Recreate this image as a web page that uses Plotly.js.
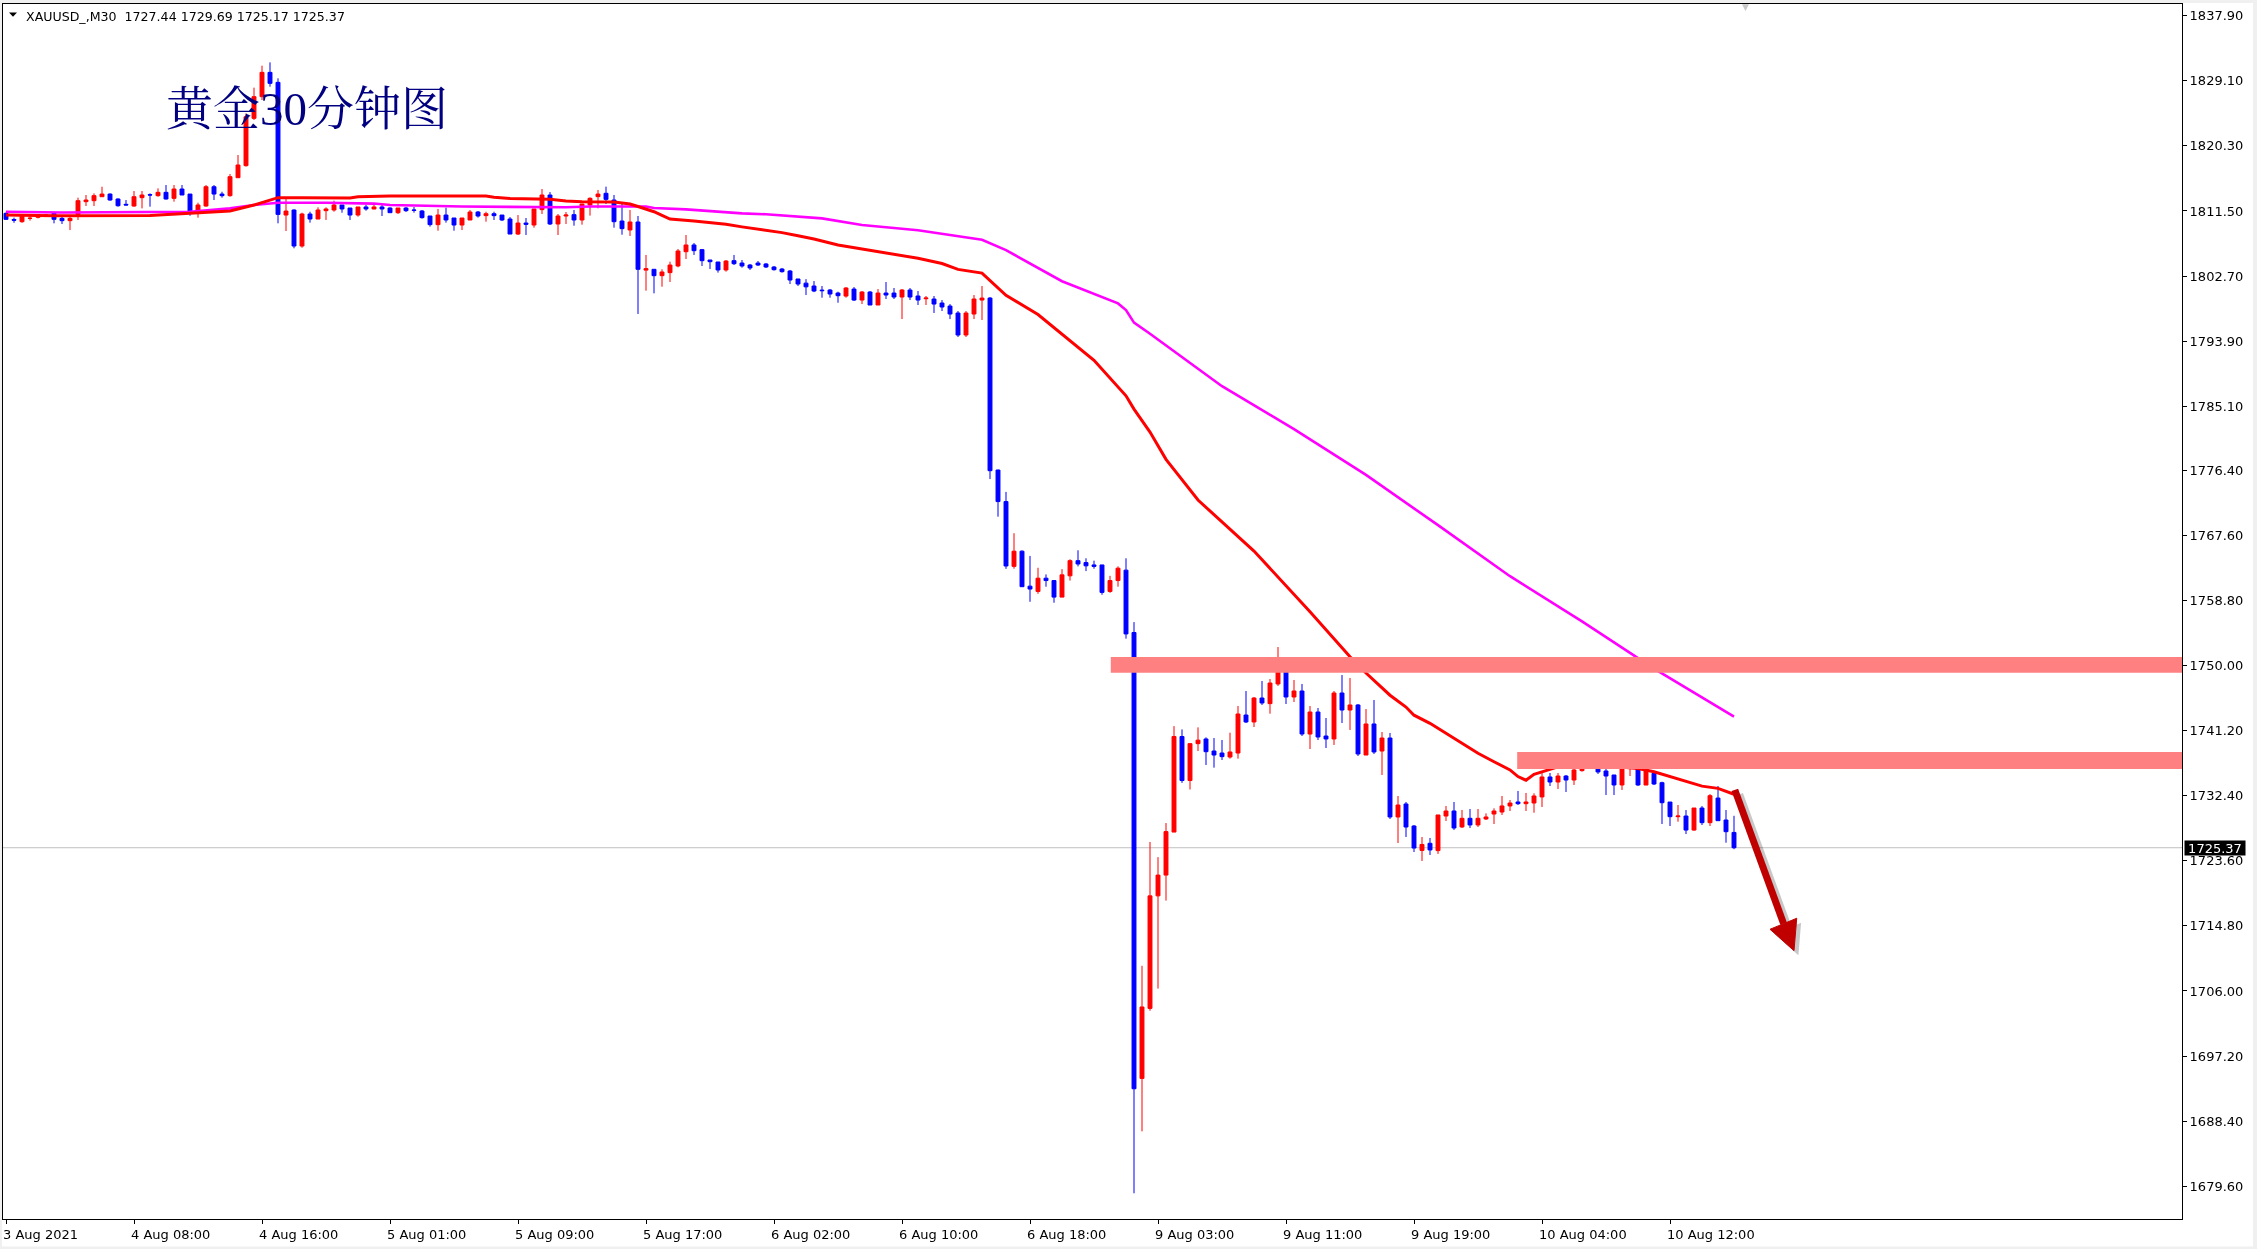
<!DOCTYPE html>
<html><head><meta charset="utf-8">
<script src="https://cdn.plot.ly/plotly-3.0.1.min.js"></script>
<style>
html,body{margin:0;padding:0;background:#fff;overflow:hidden;}
#chart{width:2257px;height:1249px;}
.layer-above .shapelayer path{mix-blend-mode:multiply;}
</style></head>
<body><div id="chart"></div>
<script>
// ---- DATA (XAUUSD M30, bar index 0 = 3 Aug 23:00) ----
const opens = [1811.18,1810.35,1810.05,1810.50,1810.64,1810.82,1811.18,1810.50,1810.19,1811.04,
1812.76,1812.89,1813.43,1813.79,1813.12,1812.40,1812.17,1813.30,1813.70,1813.57,
1814.02,1813.21,1814.47,1813.79,1811.63,1812.17,1814.78,1813.79,1813.57,1816.00,
1817.63,1824.03,1826.96,1830.25,1828.90,1810.95,1811.63,1806.76,1811.09,1810.41,
1811.54,1811.63,1812.31,1811.90,1810.95,1812.04,1811.77,1812.04,1811.90,1811.27,
1811.90,1811.63,1811.50,1810.82,1809.65,1810.95,1810.55,1809.60,1810.28,1811.36,
1810.87,1811.13,1810.95,1810.41,1808.38,1809.87,1809.60,1811.68,1813.66,1809.74,
1810.82,1811.00,1810.28,1812.31,1813.44,1813.89,1812.98,1810.14,1808.93,1810.01,
1803.50,1803.61,1802.75,1803.16,1804.06,1805.99,1806.90,1806.27,1804.87,1804.60,
1803.52,1804.78,1804.46,1804.19,1804.46,1804.33,1803.92,1803.65,1803.38,1802.30,
1801.74,1801.35,1800.80,1800.81,1800.40,1799.99,1800.94,1799.45,1800.54,1798.78,
1800.40,1800.40,1799.86,1800.81,1800.00,1799.63,1799.59,1799.05,1798.64,1797.70,
1794.72,1797.56,1799.45,1799.72,1776.46,1772.19,1763.43,1765.48,1760.75,1760.04,
1761.83,1761.51,1759.27,1762.15,1764.20,1763.94,1763.62,1763.62,1760.04,1761.51,
1762.92,1754.48,1694.17,1703.64,1718.86,1721.67,1727.49,1740.41,1734.46,1739.45,
1740.08,1738.45,1738.18,1737.64,1738.18,1743.32,1742.38,1745.62,1744.86,1747.52,
1749.14,1745.76,1746.57,1740.75,1743.73,1740.48,1740.08,1746.30,1744.00,1744.68,
1737.91,1742.11,1738.45,1740.21,1729.53,1731.29,1728.31,1725.01,1725.97,1724.98,
1729.66,1730.34,1728.18,1729.35,1728.45,1729.26,1729.93,1730.20,1731.02,1731.56,
1731.33,1731.42,1732.24,1734.94,1734.26,1735.07,1734.53,1735.80,1737.29,1737.11,
1735.75,1735.21,1733.86,1736.34,1736.25,1733.85,1735.43,1734.17,1731.55,1729.57,
1729.66,1727.76,1730.74,1728.76,1732.09,1729.12,1727.44];
const highs = [1811.30,1810.60,1811.05,1810.80,1810.90,1811.10,1811.30,1810.82,1810.82,1813.30,
1813.66,1813.88,1814.78,1813.88,1813.21,1812.98,1814.20,1814.20,1813.88,1814.56,
1815.01,1815.01,1815.01,1813.79,1812.62,1815.01,1815.01,1814.10,1816.50,1819.07,
1824.70,1828.18,1831.15,1831.60,1829.44,1813.21,1811.72,1811.27,1811.40,1811.99,
1811.99,1812.89,1812.31,1811.90,1812.04,1812.31,1812.31,1812.31,1811.99,1811.90,
1812.04,1812.04,1811.63,1810.82,1811.77,1811.95,1810.55,1810.55,1811.63,1811.50,
1811.40,1811.40,1810.95,1810.68,1810.95,1810.55,1811.77,1814.47,1814.06,1811.09,
1811.36,1811.63,1812.44,1813.35,1814.34,1814.79,1813.66,1812.53,1811.63,1810.82,
1805.55,1803.61,1803.61,1804.64,1806.36,1808.25,1807.17,1806.36,1804.87,1804.60,
1804.87,1805.55,1804.87,1804.33,1804.73,1804.46,1804.06,1803.79,1803.52,1802.30,
1802.28,1802.02,1801.35,1800.94,1800.58,1801.21,1801.21,1800.67,1800.67,1800.94,
1801.89,1801.08,1800.94,1801.08,1800.67,1800.00,1800.00,1799.45,1798.91,1797.97,
1797.97,1800.13,1801.35,1799.86,1776.50,1773.50,1767.91,1765.60,1764.84,1763.24,
1762.34,1761.51,1763.05,1764.39,1765.60,1764.52,1764.20,1763.62,1762.15,1763.43,
1764.52,1755.89,1709.40,1726.15,1724.10,1728.71,1741.82,1741.37,1739.45,1741.65,
1740.30,1740.21,1739.94,1740.93,1744.54,1746.57,1745.76,1747.92,1748.19,1752.52,
1749.55,1748.06,1747.52,1744.54,1744.27,1742.92,1746.57,1748.73,1748.33,1744.81,
1744.13,1745.35,1741.02,1740.89,1732.37,1731.56,1728.44,1726.82,1726.69,1729.80,
1731.02,1731.56,1730.48,1730.61,1730.61,1730.02,1730.70,1732.37,1731.83,1733.05,
1732.78,1732.73,1735.48,1735.48,1735.48,1735.21,1736.43,1737.38,1737.51,1737.24,
1736.34,1735.21,1736.34,1738.19,1736.97,1735.97,1735.61,1734.30,1731.55,1731.15,
1730.47,1730.74,1731.01,1732.63,1733.72,1730.47,1729.69];
const lows = [1810.30,1809.90,1809.90,1810.20,1810.50,1810.70,1809.83,1809.74,1808.92,1810.28,
1812.17,1812.17,1813.43,1812.89,1812.08,1812.26,1812.08,1811.85,1812.08,1813.43,
1813.04,1812.76,1813.66,1810.86,1810.59,1812.08,1812.98,1813.30,1813.43,1816.00,
1817.50,1823.80,1826.51,1828.31,1809.83,1808.79,1806.45,1806.53,1809.92,1810.41,
1810.28,1811.40,1811.27,1810.28,1810.73,1811.54,1811.72,1810.82,1811.27,1811.09,
1811.36,1811.27,1810.46,1809.38,1808.83,1809.92,1808.83,1808.92,1810.28,1810.60,
1810.05,1810.28,1810.14,1808.38,1808.25,1808.25,1809.24,1811.09,1809.60,1808.25,
1809.74,1809.51,1809.65,1810.87,1811.86,1812.44,1809.24,1808.29,1808.12,1797.57,
1800.72,1800.36,1801.26,1801.89,1803.88,1805.00,1805.55,1804.06,1803.65,1803.16,
1803.29,1804.19,1803.83,1803.52,1804.06,1803.79,1803.43,1803.16,1801.62,1801.35,
1800.13,1800.52,1799.77,1799.77,1799.09,1799.77,1799.32,1798.91,1798.78,1798.78,
1799.59,1799.59,1796.88,1799.45,1798.78,1798.78,1797.70,1797.97,1796.88,1794.45,
1794.45,1796.88,1796.75,1775.24,1770.15,1763.09,1763.11,1760.68,1758.64,1759.72,
1760.68,1758.51,1759.27,1761.51,1763.43,1762.79,1763.11,1759.59,1759.85,1760.68,
1753.65,1678.63,1687.01,1703.32,1706.32,1718.22,1727.49,1734.14,1733.25,1738.45,
1736.56,1736.20,1737.24,1737.42,1737.42,1742.24,1741.70,1744.68,1743.50,1747.25,
1744.81,1745.08,1740.48,1738.72,1739.94,1738.86,1739.27,1742.24,1741.30,1737.78,
1737.91,1738.05,1735.21,1729.26,1726.01,1726.82,1724.79,1723.58,1724.39,1724.53,
1728.99,1727.77,1728.04,1728.04,1728.18,1729.12,1728.58,1729.80,1730.34,1731.15,
1730.34,1730.11,1730.88,1733.72,1733.32,1732.91,1733.86,1735.66,1736.70,1735.35,
1732.50,1732.50,1733.18,1735.07,1733.72,1733.85,1733.85,1728.58,1728.31,1728.89,
1727.22,1727.67,1728.44,1728.31,1729.03,1726.05,1725.17];
const closes = [1810.37,1810.25,1810.95,1810.52,1810.82,1810.95,1810.37,1810.19,1810.50,1812.89,
1812.98,1813.57,1813.79,1812.98,1812.21,1812.31,1813.43,1813.66,1813.66,1814.02,
1813.12,1814.47,1813.66,1811.49,1812.31,1814.78,1813.79,1813.57,1816.14,1817.72,
1824.25,1826.96,1830.25,1828.76,1811.04,1811.49,1806.76,1811.09,1810.41,1811.63,
1811.77,1812.31,1811.77,1810.95,1812.04,1811.77,1812.04,1811.77,1811.27,1811.90,
1811.54,1811.59,1810.60,1809.65,1810.95,1810.28,1809.60,1810.55,1811.36,1810.82,
1811.13,1810.87,1810.28,1808.38,1809.87,1809.69,1811.77,1813.66,1809.74,1810.82,
1810.95,1810.28,1812.44,1813.21,1813.79,1813.07,1810.05,1809.11,1810.01,1803.61,
1803.70,1802.75,1803.25,1804.19,1806.09,1806.90,1806.13,1804.78,1804.64,1803.52,
1804.73,1804.37,1804.06,1803.79,1804.19,1803.92,1803.56,1803.29,1802.16,1801.62,
1801.24,1800.67,1800.72,1800.27,1800.04,1801.08,1799.45,1800.54,1798.78,1800.40,
1800.13,1799.86,1800.81,1799.86,1799.45,1799.72,1798.91,1798.51,1797.56,1794.72,
1797.70,1799.59,1799.72,1776.37,1772.19,1763.48,1765.48,1760.68,1760.36,1761.83,
1761.51,1759.27,1762.28,1764.20,1763.75,1763.50,1763.43,1759.91,1761.51,1763.18,
1754.29,1692.77,1703.83,1718.86,1721.67,1727.55,1740.41,1734.46,1739.45,1739.92,
1738.36,1737.91,1737.69,1738.32,1743.46,1742.38,1745.62,1744.95,1747.65,1749.14,
1745.76,1746.57,1740.75,1743.73,1740.35,1740.08,1746.30,1744.00,1744.68,1738.05,
1742.11,1738.32,1740.21,1729.53,1731.15,1728.17,1725.33,1725.81,1725.07,1729.80,
1730.34,1728.04,1729.35,1728.45,1729.35,1729.53,1730.34,1731.02,1731.42,1731.33,
1731.56,1732.37,1734.94,1734.26,1735.07,1734.53,1735.89,1737.24,1736.97,1735.62,
1735.07,1733.86,1736.34,1736.56,1733.86,1735.97,1733.99,1731.46,1729.57,1729.66,
1727.76,1730.74,1728.76,1732.41,1729.03,1727.54,1725.37];

// moving averages (bar index, price)
const maRedIdx = [0,6,18,28,31,33,34,37,43,44,48,60,61,63,68,70,72,76,78,79,81,82,83,86,88,90,92,95,97,99,101,104,108,111,114,117,119,122,123,125,129,136,140,141,143,145,149,156,163,165,168,170,173,175,176,178,180,182,184,186,188,189,190,191,193,194,196,199,201,204,206,208,210,212,214,215,216];
const maRedVal = [1810.95,1810.85,1810.9,1811.5,1812.3,1812.9,1813.3,1813.3,1813.25,1813.43,1813.52,1813.52,1813.35,1813.2,1813.07,1812.85,1812.76,1812.72,1812.44,1812.1,1811.4,1810.9,1810.4,1810.14,1809.95,1809.7,1809.35,1808.9,1808.57,1808.16,1807.7,1806.9,1806.2,1805.6,1805.1,1804.4,1803.6,1803.1,1802.1,1800.1,1797.5,1791.3,1786.5,1784.7,1781.6,1777.9,1772.4,1765.5,1757.3,1754.8,1751.2,1749.0,1746.0,1744.4,1743.3,1742.2,1740.85,1739.5,1738.15,1737.0,1735.9,1735.0,1734.5,1735.3,1735.9,1736.3,1736.55,1736.55,1736.35,1736.1,1735.65,1735.0,1734.3,1733.7,1733.4,1733.0,1732.6];
const maMagIdx = [0,7,23,25,28,31,34,40,42,46,48,52,57,70,73,80,81,85,87,90,92,95,97,100,102,107,114,122,125,132,139,140,141,143,152,161,170,179,188,197,206,216];
const maMagVal = [1811.4,1811.3,1811.4,1811.6,1811.85,1812.3,1812.62,1812.62,1812.6,1812.5,1812.3,1812.2,1812.1,1812.0,1812.1,1812.1,1811.9,1811.72,1811.54,1811.36,1811.18,1811.05,1810.87,1810.64,1810.5,1809.6,1808.9,1807.6,1806.2,1802.0,1799.0,1798.1,1796.4,1794.9,1787.8,1782.0,1775.8,1769.0,1762.1,1756.0,1749.6,1743.1];

// resistance zones (start bar index, low, high)
const zoneStart = [138.1, 188.9];
const zoneLow = [1749.04, 1736.02];
const zoneHigh = [1751.17, 1738.32];

// axis ticks
const xTickIdx = [0,16,32,48,64,80,96,112,128,144,160,176,192,208];
const xTickText = ['3 Aug 2021','4 Aug 08:00','4 Aug 16:00','5 Aug 01:00','5 Aug 09:00','5 Aug 17:00','6 Aug 02:00','6 Aug 10:00','6 Aug 18:00','9 Aug 03:00','9 Aug 11:00','9 Aug 19:00','10 Aug 04:00','10 Aug 12:00'];
const yTickVals = [1837.9,1829.1,1820.3,1811.5,1802.7,1793.9,1785.1,1776.4,1767.6,1758.8,1750.0,1741.2,1732.4,1723.6,1714.8,1706.0,1697.2,1688.4,1679.6];

const symbol = 'XAUUSD_,M30';
const chartTitle = '黄金30分钟图';

// ---- LAYOUT ----
const W = 2257, H = 1249;
const ML = 3, MT = 4, MR = 75, MB = 30;
const PW = W - ML - MR, PH = H - MT - MB;
const px = X => (X - ML) / PW;
const py = Y => 1 - (Y - MT) / PH;

const barIdx = closes.map((_, i) => i);
const n = closes.length;
const last = n - 1;

const traces = [
  {
    type: 'candlestick', x: barIdx, open: opens, high: highs, low: lows, close: closes,
    increasing: {line: {color: '#ff0000', width: 1}, fillcolor: '#ff0000'},
    decreasing: {line: {color: '#0000ff', width: 1}, fillcolor: '#0000ff'},
    whiskerwidth: 0, hoverinfo: 'skip', showlegend: false
  },
  {type: 'scatter', mode: 'lines', x: maMagIdx, y: maMagVal, line: {color: '#ff00ff', width: 2.6}, hoverinfo: 'skip', showlegend: false},
  {type: 'scatter', mode: 'lines', x: maRedIdx, y: maRedVal, line: {color: '#ff0000', width: 3}, hoverinfo: 'skip', showlegend: false}
];

const shapes = [];
// window frame (light grey strips)
shapes.push({type: 'rect', xref: 'paper', yref: 'paper', layer: 'below', x0: px(2253), x1: px(2265), y0: py(1265), y1: py(-10), fillcolor: '#f0f0f0', line: {width: 0}});
shapes.push({type: 'rect', xref: 'paper', yref: 'paper', layer: 'below', x0: px(-10), x1: px(2265), y0: py(1265), y1: py(1246.5), fillcolor: '#f0f0f0', line: {width: 0}});
shapes.push({type: 'rect', xref: 'paper', yref: 'paper', layer: 'below', x0: px(-10), x1: px(2265), y0: py(3), y1: py(-10), fillcolor: '#f0f0f0', line: {width: 0}});
shapes.push({type: 'rect', xref: 'paper', yref: 'paper', layer: 'below', x0: px(-10), x1: px(2), y0: py(1265), y1: py(-10), fillcolor: '#f0f0f0', line: {width: 0}});
// current price line
shapes.push({type: 'line', xref: 'paper', yref: 'y', layer: 'below', x0: 0, x1: 1, y0: closes[last], y1: closes[last], line: {color: '#c0c0c0', width: 1}});
// resistance zones
for (let k = 0; k < zoneStart.length; k++) {
  shapes.push({type: 'rect', xref: 'x', yref: 'y', layer: 'above', x0: zoneStart[k], x1: 273, y0: zoneLow[k], y1: zoneHigh[k], fillcolor: '#ff8080', line: {width: 0}});
}
// arrow (shadow + arrow)
const arrowTail = [216.1, 1733.2], arrowBase = [222.2, 1715.1];
const headL = [220.5, 1714.34], headR = [223.84, 1715.83], headTip = [223.5, 1711.44];
const sdx = 0.55, sdy = -0.6;
shapes.push({type: 'line', xref: 'x', yref: 'y', layer: 'above', x0: arrowTail[0] + sdx, y0: arrowTail[1] + sdy, x1: arrowBase[0] + sdx, y1: arrowBase[1] + sdy, line: {color: 'rgba(0,0,0,0.22)', width: 8}});
shapes.push({type: 'path', xref: 'x', yref: 'y', layer: 'above', path: `M${headL[0]+sdx},${headL[1]+sdy} L${headR[0]+sdx},${headR[1]+sdy} L${headTip[0]+sdx},${headTip[1]+sdy} Z`, fillcolor: 'rgba(0,0,0,0.22)', line: {width: 0}});
shapes.push({type: 'line', xref: 'x', yref: 'y', layer: 'above', x0: arrowTail[0], y0: arrowTail[1], x1: arrowBase[0], y1: arrowBase[1], line: {color: '#c00000', width: 7}});
shapes.push({type: 'path', xref: 'x', yref: 'y', layer: 'above', path: `M${headL[0]},${headL[1]} L${headR[0]},${headR[1]} L${headTip[0]},${headTip[1]} Z`, fillcolor: '#c00000', line: {color: '#c00000', width: 1}});
// header triangle
shapes.push({type: 'path', xref: 'paper', yref: 'paper', layer: 'above', path: `M${px(9)},${py(12.5)} L${px(17)},${py(12.5)} L${px(13)},${py(16.8)} Z`, fillcolor: '#000', line: {width: 0}});

const nb = '\u00a0';
const header = `${symbol}${nb}${nb}${opens[last].toFixed(2)} ${highs[last].toFixed(2)} ${lows[last].toFixed(2)} ${closes[last].toFixed(2)}`;

const annotations = [
  {xref: 'paper', yref: 'paper', x: px(24), y: py(16.5), xanchor: 'left', yanchor: 'middle', showarrow: false,
   text: header, font: {family: 'DejaVu Sans', size: 12.6, color: '#000'}},
  {xref: 'x', yref: 'y', x: 37.6, y: 1825.3, xanchor: 'center', yanchor: 'middle', showarrow: false,
   text: chartTitle, font: {family: '"Liberation Serif", "Noto Serif CJK SC", "Noto Sans CJK SC", serif', size: 47, color: '#000080'}},
  {xref: 'paper', yref: 'y', x: 1, y: closes[last], xanchor: 'left', yanchor: 'middle', xshift: 2, showarrow: false,
   text: closes[last].toFixed(2), bgcolor: '#000000', borderpad: 0, width: 60, height: 14, align: 'center',
   font: {family: 'DejaVu Sans', size: 13, color: '#ffffff'}},
  {xref: 'paper', yref: 'paper', x: px(1745), y: py(7), xanchor: 'center', yanchor: 'middle', showarrow: false,
   text: '▼', font: {family: 'DejaVu Sans', size: 9, color: '#c8c8c8'}}
];

const layout = {
  width: W, height: H,
  margin: {l: ML, r: MR, t: MT, b: MB, pad: 0},
  paper_bgcolor: '#ffffff', plot_bgcolor: '#ffffff',
  showlegend: false, hovermode: false,
  boxgap: 0.3, boxgroupgap: 0.3,
  xaxis: {
    range: [(ML - 6) / 8, (W - MR - 6) / 8], type: 'linear',
    rangeslider: {visible: false},
    showgrid: false, zeroline: false,
    showline: true, linecolor: '#000', linewidth: 1, mirror: true,
    ticks: 'outside', ticklen: 4, tickcolor: '#000', tickwidth: 1,
    tickvals: xTickIdx, ticktext: xTickText, ticklabelposition: 'outside right',
    ticklabelshift: -4, ticklabelstandoff: 3,
    tickfont: {family: 'DejaVu Sans', size: 13, color: '#000'},
    fixedrange: true
  },
  yaxis: {
    side: 'right',
    range: [1837.9 - (H - MB - 15.8) / 7.393, 1837.9 + (15.8 - MT) / 7.393],
    showgrid: false, zeroline: false,
    showline: true, linecolor: '#000', linewidth: 1, mirror: true,
    ticks: 'outside', ticklen: 4, tickcolor: '#000', tickwidth: 1,
    tickvals: yTickVals, ticktext: yTickVals.map(v => v.toFixed(2)),
    tickfont: {family: 'DejaVu Sans', size: 13, color: '#000'},
    fixedrange: true
  },
  shapes: shapes,
  annotations: annotations
};

Plotly.newPlot('chart', traces, layout, {displayModeBar: false, staticPlot: true});
</script>
</body></html>
